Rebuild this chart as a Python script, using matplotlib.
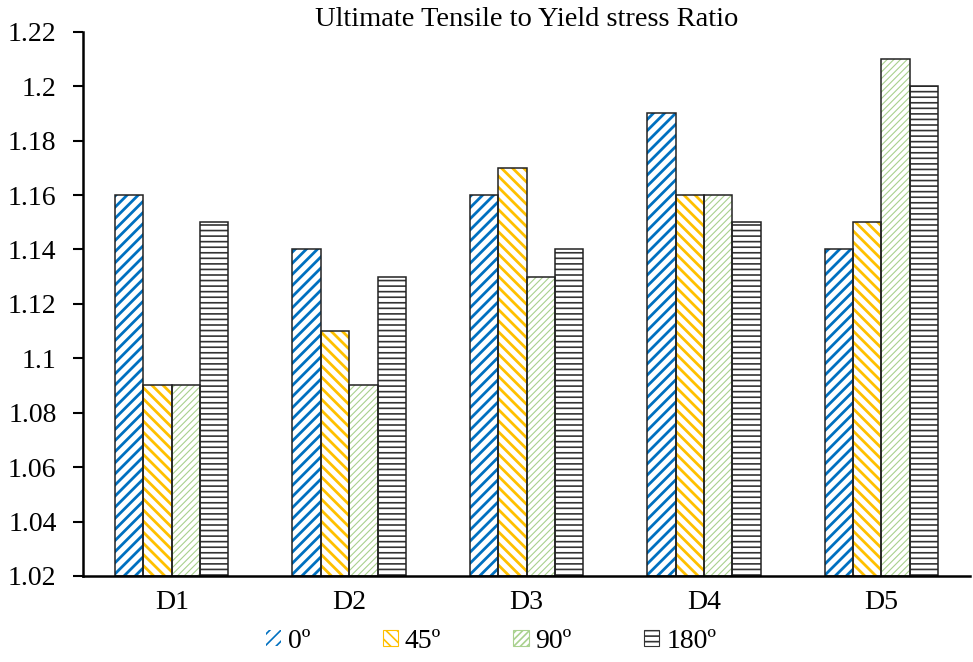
import numpy as np
import matplotlib
matplotlib.use("Agg")
import matplotlib.pyplot as plt
import matplotlib.ticker as mtick
from matplotlib.patches import Patch

plt.rcParams["font.family"] = ["Liberation Serif", "DejaVu Serif"]

# ========= data =========
categories = ["D1", "D2", "D3", "D4", "D5"]
series_names = ["0º", "45º", "90º", "180º"]
v_0 = [1.16, 1.14, 1.16, 1.19, 1.14]
v_45 = [1.09, 1.11, 1.17, 1.16, 1.15]
v_90 = [1.09, 1.09, 1.13, 1.16, 1.21]
v_180 = [1.15, 1.13, 1.14, 1.15, 1.20]
values = [v_0, v_45, v_90, v_180]

# hatch styles: (hatch color, pattern, hatch line width)
styles = [
    ("#0070C0", "///", 2.0),
    ("#FFC000", "\\\\\\", 2.0),
    ("#A9D18E", "/////", 0.8),
    ("#333333", "---", 1.2),
]

BASE = 1.02
fig, ax = plt.subplots(figsize=(9.73, 6.62), dpi=100)
fig.subplots_adjust(left=0.0853, right=0.997, top=0.952, bottom=0.130)

x = np.arange(len(categories))
w = 0.16
handles = []
for i, (vals, (col, hatch, hlw)) in enumerate(zip(values, styles)):
    pos = x + (i - 1.5) * w
    heights = np.array(vals) - BASE
    plt.rcParams["hatch.linewidth"] = hlw
    ax.bar(pos, heights, w, bottom=BASE, color="white", edgecolor=col,
           hatch=hatch, linewidth=0, zorder=2)
    ax.bar(pos, heights, w, bottom=BASE, fill=False, edgecolor="#222222",
           linewidth=1.1, zorder=3)
    handles.append(Patch(facecolor="white", edgecolor=col, hatch=hatch,
                         linewidth=0, label=series_names[i]))

ax.set_xlim(-0.5, len(categories) - 0.5)
ax.set_ylim(1.02, 1.22)
ax.set_xticks(x)
ax.set_xticklabels(categories)
ax.yaxis.set_major_locator(mtick.MultipleLocator(0.02))
ax.yaxis.set_major_formatter(mtick.FuncFormatter(lambda v, p: "%g" % round(v, 2)))
ax.tick_params(axis="y", direction="out", length=7, width=1.5, labelsize=20, pad=12)
ax.tick_params(axis="x", length=0, labelsize=20, pad=10)

for s in ["top", "right"]:
    ax.spines[s].set_visible(False)
for s in ["left", "bottom"]:
    ax.spines[s].set_linewidth(1.8)
    ax.spines[s].set_zorder(4)

ax.set_title("Ultimate Tensile to Yield stress Ratio", fontsize=20.5, pad=4)

leg = ax.legend(handles=handles, loc="center", bbox_to_anchor=(0.46, -0.12),
                ncol=4, frameon=False, fontsize=20, handlelength=0.55,
                handleheight=0.55, handletextpad=0.25, columnspacing=2.6,
                borderpad=0.1)
# black border around the legend keys except the first
for k, p in enumerate(leg.get_patches()):
    if k > 0:
        p.set_linewidth(0.8)
        p.set_edgecolor(styles[k][0])

fig.savefig("out.png", dpi=100)
